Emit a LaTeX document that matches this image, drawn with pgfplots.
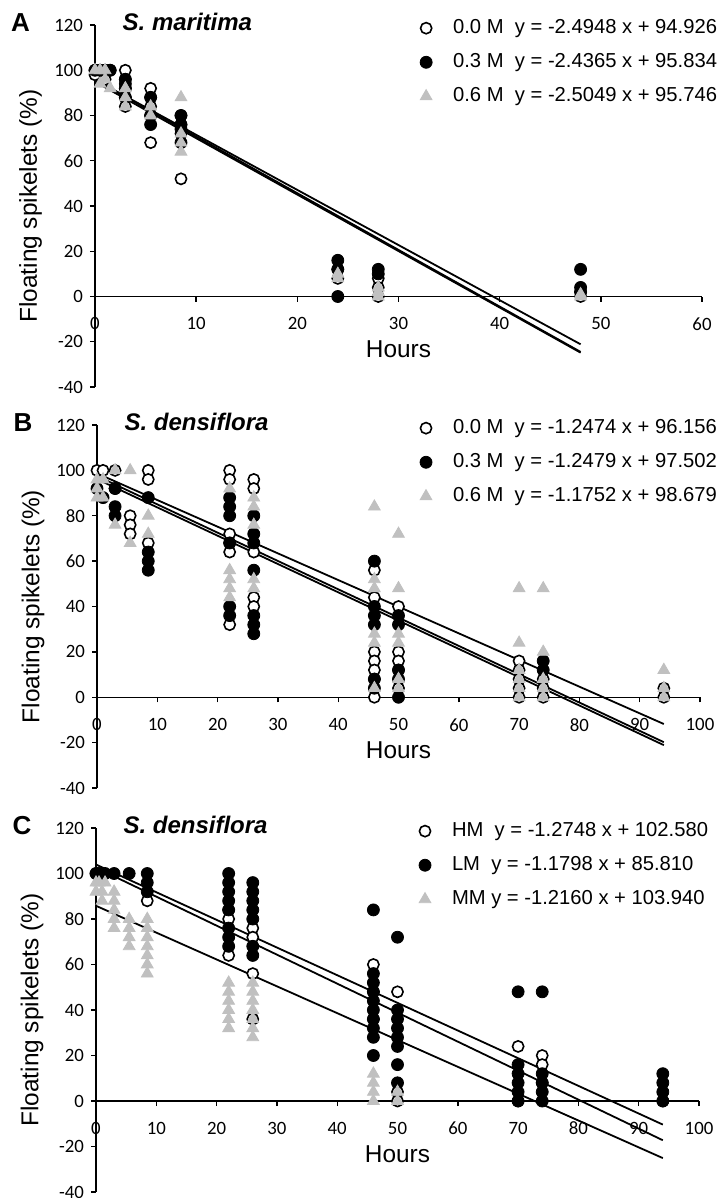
\documentclass[border=0pt]{standalone}
\usepackage{fontspec}
\setmainfont{Liberation Sans}
\newfontfamily\carlito{Carlito}
\usepackage{pgfplots}
\pgfplotsset{compat=1.18}
\definecolor{tri}{RGB}{192,192,192}

\tikzset{letter/.style={anchor=base west, font=\bfseries\fontsize{13}{15}\selectfont}}
\pgfplotsset{
  panel/.style={
    scale only axis, clip=false,
    axis x line=middle, axis y line=left,
    axis line style={-, line width=0.7pt},
    ymin=-40, ymax=120, ytick={-40,-20,...,120},
    xmin=0,
    tick align=outside, major tick length=2.5pt,
    every tick/.style={black, line width=0.7pt},
    hide obscured x ticks=false, hide obscured y ticks=false,
    tick label style={font=\carlito\fontsize{9.4}{10}\selectfont},
    xticklabel style={yshift=-4.5pt},
    /pgf/number format/assume math mode=true,
    xlabel={Hours}, ylabel={Floating spikelets (\%)},
    label style={font=\fontsize{12.2}{14}\selectfont},
    xlabel style={at={(axis description cs:0.5,0.104)}, anchor=center},
    ylabel style={at={(axis description cs:-0.106,0.5)}, anchor=center},
    every axis title shift=0pt,
    title style={at={(axis description cs:0.034,0.985)}, anchor=base west, yshift=0pt,
      font=\bfseries\itshape\fontsize{12}{14}\selectfont},
    legend style={draw=none, fill=none, at={(axis description cs:0.535,1.027)},
      anchor=north west, font=\fontsize{10.1}{12}\selectfont, row sep=4.5pt,
      column sep=8.5pt, inner sep=0pt},
    legend cell align=left,
    legend image code/.code={\draw[##1] plot coordinates {(0pt,0pt)};},
  },
  s0/.style={only marks, mark=*, mark size=2.8pt, mark options={draw=black, fill=white, line width=0.8pt}},
  s1/.style={only marks, mark=*, mark size=3pt, mark options={draw=black, fill=black}},
  s2/.style={only marks, mark=triangle*, mark size=3.4pt, mark options={draw=tri, fill=tri}},
  trend/.style={black, line width=0.9pt, forget plot},
}

\begin{document}
\begin{tikzpicture}
\useasboundingbox (0,0) rectangle (359.5pt,-599pt);

% ---------------- A ----------------
\begin{axis}[panel, at={(47.5pt,-193.5pt)}, anchor=south west,
  width=303.5pt, height=181pt, xmax=60, xtick={0,10,...,60},
  title={S. maritima}]
\addplot[s0] table[row sep=\\] {x y \\
0 100 \\ 0.5 100 \\ 1 100 \\ 1.5 100 \\ 0 98 \\ 1 96 \\
3 100 \\ 3 96 \\ 3 92 \\ 3 88 \\ 3 84 \\
5.5 92 \\ 5.5 88 \\ 5.5 84 \\ 5.5 80 \\ 5.5 68 \\
8.5 80 \\ 8.5 76 \\ 8.5 72 \\ 8.5 52 \\
24 12 \\ 24 8 \\ 28 8 \\ 28 4 \\ 28 0 \\ 48 0 \\ 48 2 \\};
\addlegendentry{0.0 M\ \ y = -2.4948 x + 94.926}
\addplot[s1] table[row sep=\\] {x y \\
0 100 \\ 0.5 100 \\ 1 100 \\ 1.5 100 \\
3 96 \\ 3 94 \\ 3 92 \\ 3 88 \\
5.5 88 \\ 5.5 80 \\ 5.5 76 \\
8.5 80 \\ 8.5 76 \\ 8.5 74 \\ 8.5 68 \\
24 16 \\ 24 12 \\ 24 0 \\ 28 12 \\ 28 10 \\ 48 12 \\ 48 4 \\ 48 2 \\};
\addlegendentry{0.3 M\ \ y = -2.4365 x + 95.834}
\addplot[s2] table[row sep=\\] {x y \\
0 100 \\ 0.5 100 \\ 1 100 \\ 1 96 \\ 1.5 92 \\ 0.5 94 \\
3 92 \\ 3 88 \\ 3 84 \\
5.5 84 \\ 5.5 80 \\
8.5 88 \\ 8.5 72 \\ 8.5 68 \\ 8.5 64 \\
24 10 \\ 24 8 \\ 28 4 \\ 28 2 \\ 28 0 \\ 48 1 \\ 48 0 \\};
\addlegendentry{0.6 M\ \ y = -2.5049 x + 95.746}
\addplot[trend] coordinates {(0,94.926) (48,-24.824)};
\addplot[trend] coordinates {(0,95.834) (48,-21.118)};
\addplot[trend] coordinates {(0,95.746) (48,-24.489)};
\node[letter] at (axis description cs:-0.15,0.983) {A};
\end{axis}

% ---------------- B ----------------
\begin{axis}[panel, at={(48.5pt,-394pt)}, anchor=south west,
  width=301.5pt, height=181.5pt, xmax=100, xtick={0,10,...,100},
  title={S. densiflora}]
\addplot[s0] table[row sep=\\] {x y \\
0 100 \\ 1 100 \\ 3 100 \\ 3 92 \\ 5.5 80 \\ 5.5 76 \\ 5.5 72 \\
8.5 100 \\ 8.5 96 \\ 8.5 68 \\
22 100 \\ 22 96 \\ 22 72 \\ 22 68 \\ 22 64 \\ 22 32 \\
26 96 \\ 26 92 \\ 26 64 \\ 26 44 \\ 26 40 \\
46 56 \\ 46 44 \\ 46 20 \\ 46 16 \\ 46 12 \\ 46 8 \\ 46 0 \\
50 40 \\ 50 20 \\ 50 16 \\ 50 12 \\ 50 4 \\
70 16 \\ 70 12 \\ 70 8 \\ 70 4 \\ 70 0 \\
74 8 \\ 74 4 \\ 74 0 \\ 94 4 \\ 94 0 \\};
\addlegendentry{0.0 M\ \ y = -1.2474 x + 96.156}
\addplot[s1] table[row sep=\\] {x y \\
0 92 \\ 1 88 \\ 3 92 \\ 3 84 \\ 3 80 \\
8.5 88 \\ 8.5 64 \\ 8.5 60 \\ 8.5 56 \\
22 88 \\ 22 84 \\ 22 80 \\ 22 68 \\ 22 40 \\ 22 36 \\
26 80 \\ 26 72 \\ 26 68 \\ 26 56 \\ 26 36 \\ 26 32 \\ 26 28 \\
46 60 \\ 46 40 \\ 46 36 \\ 46 32 \\ 46 8 \\ 46 4 \\
50 36 \\ 50 32 \\ 50 12 \\ 50 8 \\ 50 0 \\
74 16 \\ 74 12 \\};
\addlegendentry{0.3 M\ \ y = -1.2479 x + 97.502}
\addplot[s2] table[row sep=\\] {x y \\
0 96 \\ 0 92 \\ 1 96 \\ 1 88 \\ 0 88 \\ 3 100 \\ 3 76 \\
5.5 100 \\ 5.5 68 \\
8.5 80 \\ 8.5 72 \\
22 92 \\ 22 56 \\ 22 52 \\ 22 48 \\ 22 44 \\
26 88 \\ 26 84 \\ 26 76 \\ 26 52 \\ 26 48 \\
46 84 \\ 46 52 \\ 46 48 \\ 46 28 \\ 46 24 \\ 46 4 \\
50 72 \\ 50 48 \\ 50 28 \\ 50 24 \\ 50 8 \\ 50 4 \\
70 48 \\ 70 24 \\ 70 12 \\ 70 8 \\ 70 4 \\ 70 0 \\
74 48 \\ 74 20 \\ 74 8 \\ 74 4 \\ 74 0 \\
94 12 \\ 94 4 \\ 94 0 \\};
\addlegendentry{0.6 M\ \ y = -1.1752 x + 98.679}
\addplot[trend] coordinates {(0,96.156) (94,-21.100)};
\addplot[trend] coordinates {(0,97.502) (94,-19.801)};
\addplot[trend] coordinates {(0,98.679) (94,-11.790)};
\node[letter] at (axis description cs:-0.15,0.983) {B};
\end{axis}

% ---------------- C ----------------
\begin{axis}[panel, at={(48pt,-596pt)}, anchor=south west,
  width=301.5pt, height=182pt, xmax=100, xtick={0,10,...,100},
  title={S. densiflora}]
\addplot[trend] coordinates {(0,102.580) (94,-17.251)};
\addplot[trend] coordinates {(0,85.810) (94,-25.091)};
\addplot[trend] coordinates {(0,103.940) (94,-10.364)};
\addplot[s0] table[row sep=\\] {x y \\
0 100 \\ 1 100 \\ 8.5 88 \\
22 84 \\ 22 80 \\ 22 64 \\
26 76 \\ 26 72 \\ 26 56 \\ 26 36 \\
46 60 \\ 46 48 \\ 46 36 \\ 50 48 \\ 50 4 \\ 50 0 \\
70 24 \\ 70 0 \\ 74 20 \\ 74 16 \\ 74 8 \\ 94 0 \\};
\addlegendentry{HM\ \ y = -1.2748 x + 102.580}
\addplot[s1] table[row sep=\\] {x y \\
0 100 \\ 0.5 100 \\ 1 100 \\ 1.5 100 \\ 3 100 \\ 5.5 100 \\
8.5 100 \\ 8.5 96 \\ 8.5 92 \\
22 100 \\ 22 96 \\ 22 92 \\ 22 88 \\ 22 84 \\ 22 76 \\ 22 72 \\ 22 68 \\
26 96 \\ 26 92 \\ 26 88 \\ 26 84 \\ 26 80 \\ 26 68 \\ 26 64 \\
46 84 \\ 46 56 \\ 46 52 \\ 46 48 \\ 46 44 \\ 46 40 \\ 46 36 \\ 46 32 \\ 46 28 \\ 46 20 \\
50 72 \\ 50 40 \\ 50 36 \\ 50 32 \\ 50 28 \\ 50 24 \\ 50 16 \\ 50 8 \\
70 48 \\ 70 16 \\ 70 12 \\ 70 8 \\ 70 4 \\ 70 0 \\
74 48 \\ 74 12 \\ 74 8 \\ 74 4 \\ 74 0 \\
94 12 \\ 94 8 \\ 94 4 \\ 94 0 \\};
\addlegendentry{LM\ \ y = -1.1798 x + 85.810}
\addplot[s2] table[row sep=\\] {x y \\
0 96 \\ 0 92 \\ 0.5 96 \\ 1 92 \\ 1 88 \\ 1.5 96 \\
3 92 \\ 3 88 \\ 3 84 \\ 3 80 \\ 3 76 \\
5.5 80 \\ 5.5 76 \\ 5.5 72 \\ 5.5 68 \\
8.5 80 \\ 8.5 76 \\ 8.5 72 \\ 8.5 68 \\ 8.5 64 \\ 8.5 60 \\ 8.5 56 \\
22 52 \\ 22 48 \\ 22 44 \\ 22 40 \\ 22 36 \\ 22 32 \\
26 52 \\ 26 48 \\ 26 44 \\ 26 40 \\ 26 36 \\ 26 32 \\ 26 28 \\
46 12 \\ 46 8 \\ 46 4 \\ 46 0 \\ 50 4 \\ 50 0 \\};
\addlegendentry{MM y = -1.2160 x + 103.940}
\node[letter] at (axis description cs:-0.15,0.983) {C};
\end{axis}
\end{tikzpicture}
\end{document}
